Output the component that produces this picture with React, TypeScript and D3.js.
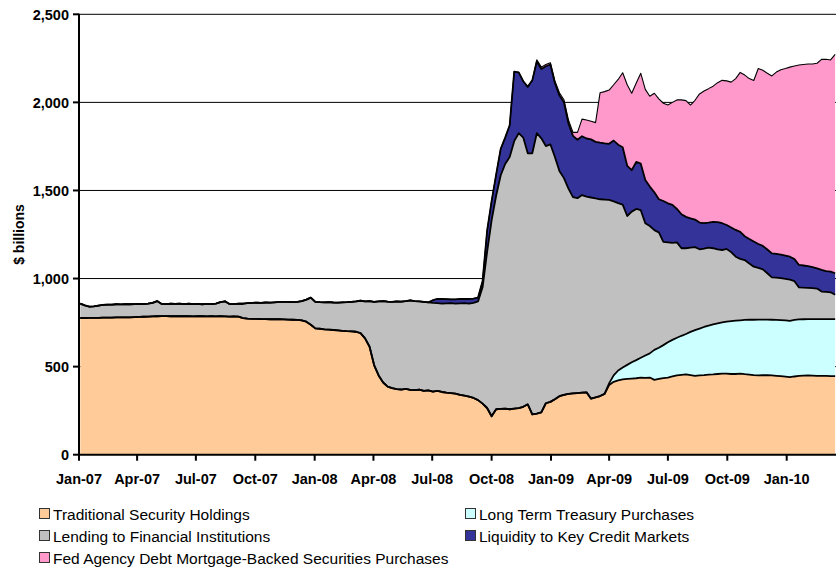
import React from 'react';
import * as d3 from 'd3';

// weekly H.4.1 readings, first Wednesday of 2007 onward, $ billions
const firstWeek = new Date(2007, 0, 3);

const traditional = [
  776, 776, 777, 777, 777, 778, 778, 778, 779, 779,
  780, 780, 781, 782, 783, 784, 785, 786, 787, 787,
  786, 786, 787, 786, 786, 785, 786, 786, 785, 786,
  785, 786, 785, 784, 785, 784, 775, 772, 771, 771,
  770, 770, 769, 770, 769, 768, 767, 766, 765, 763,
  755, 738, 717, 715, 712, 710, 708, 706, 703, 701,
  700, 698, 690, 660, 613, 509, 450, 410, 386, 378,
  372, 370, 374, 368, 366, 370, 362, 365, 358, 362,
  356, 352, 350, 347, 340, 335, 330, 322, 310, 290,
  265, 218, 258, 260, 262, 258, 262, 264, 272, 286,
  229, 233, 240, 292, 300, 315, 332, 340, 345, 348,
  350, 352, 354, 318, 325, 333, 345, 395, 414, 422,
  428, 430, 432, 434, 437, 436, 438, 425, 430, 435,
  438, 444, 450, 453, 456, 452, 448, 450, 452, 455,
  456, 458, 460, 460, 458, 458, 460, 457, 455, 452,
  450, 451, 452, 450, 448, 446, 443, 440, 444, 447,
  449, 450, 449, 448, 447, 447, 446, 446,
];

// starts week 117 (late Mar 2009)
const treasuryStart = 117;
const treasury = [
  10, 36, 56, 67, 80, 93, 103, 113, 127, 137,
  170, 177, 187, 200, 208, 214, 222, 229, 245, 259,
  266, 273, 278, 284, 288, 291, 295, 300, 303, 303,
  308, 311, 314, 317, 316, 315, 316, 317, 318, 319,
  320, 321, 321, 320, 320, 321, 322, 323, 323, 324, 324,
];

const lending = [
  82, 72, 63, 65, 69, 72, 74, 74, 75, 74,
  75, 74, 74, 74, 72, 74, 77, 86, 69, 68,
  71, 70, 71, 69, 71, 70, 70, 68, 71, 69,
  73, 80, 86, 72, 70, 74, 82, 88, 91, 92,
  92, 94, 94, 95, 98, 100, 101, 100, 103, 109,
  125, 154, 151, 151, 153, 156, 156, 157, 162, 165,
  168, 172, 184, 210, 259, 359, 420, 462, 483, 490,
  498, 499, 498, 508, 506, 500, 506, 500, 504, 498,
  502, 507, 510, 511, 519, 525, 528, 540, 560, 660,
  885, 1112, 1212, 1325, 1388, 1432, 1518, 1561, 1528, 1425,
  1482, 1592, 1556, 1460, 1462, 1375, 1278, 1230, 1165, 1114,
  1106, 1122, 1111, 1142, 1130, 1117, 1103, 1041, 988, 950,
  925, 845, 855, 858, 838, 751, 723, 680, 655, 586,
  567, 550, 541, 497, 487, 478, 471, 450, 445, 442,
  432, 419, 411, 413, 392, 363, 349, 340, 319, 301,
  293, 285, 263, 241, 240, 238, 236, 234, 220, 182,
  179, 177, 176, 173, 156, 154, 152, 138,
];

// starts week 78 (early Jul 2008)
const liquidityStart = 78;
const liquidity = [
  15, 24, 26, 24, 22, 24, 25, 24, 26, 24,
  22, 35, 120, 110, 120, 150, 150, 180, 395, 345,
  320, 377, 414, 407, 394, 453, 453, 420, 430, 430,
  370, 348, 332, 334, 330, 330, 321, 321, 319, 319,
  345, 332, 325, 285, 235, 267, 264, 246, 224, 215,
  188, 232, 222, 216, 190, 193, 178, 167, 157, 152,
  145, 143, 150, 155, 152, 136, 140, 152, 153, 135,
  140, 143, 136, 133, 135, 136, 135, 134, 132, 130,
  125, 127, 126, 124, 119, 115, 123, 118, 117, 122,
];

// starts week 101 (Dec 2008)
const mbsStart = 101;
const mbs = [
  10, 10, 10, 10, 12, 15, 15, 20, 20, 42,
  97, 105, 103, 109, 284, 294, 305, 317, 370, 423,
  460, 437, 448, 513, 514, 513, 562, 570, 555, 558,
  582, 619, 649, 660, 643, 677, 730, 750, 760, 770,
  792, 811, 818, 825, 859, 905, 915, 910, 914, 996,
  997, 1000, 1007, 1032, 1049, 1062, 1076, 1097, 1135, 1141,
  1147, 1153, 1164, 1195, 1203, 1202, 1242,
];

const yTicks = [0, 500, 1000, 1500, 2000, 2500];

const series = [
  { key: 'traditional', label: 'Traditional Security Holdings', color: '#FFCC99' },
  { key: 'treasury', label: 'Long Term Treasury Purchases', color: '#CCFFFF' },
  { key: 'lending', label: 'Lending to Financial Institutions', color: '#C0C0C0' },
  { key: 'liquidity', label: 'Liquidity to Key Credit Markets', color: '#333399' },
  { key: 'mbs', label: 'Fed Agency Debt Mortgage-Backed Securities Purchases', color: '#FF99CC' },
];

const legendPos = {
  traditional: [39, 514],
  treasury: [465, 514],
  lending: [39, 536],
  liquidity: [465, 536],
  mbs: [39, 558],
};

const font = '"Liberation Sans", Arial, sans-serif';

export default function App() {
  const width = 836;
  const height = 571;

  const pick = (arr: number[], start: number, i: number) => (i < start ? 0 : arr[i - start]);
  const rows = traditional.map((v, i) => ({
    date: d3.timeDay.offset(firstWeek, 7 * i),
    traditional: v,
    treasury: pick(treasury, treasuryStart, i),
    lending: lending[i],
    liquidity: pick(liquidity, liquidityStart, i),
    mbs: pick(mbs, mbsStart, i),
  }));

  const x = d3.scaleTime()
    .domain([new Date(2007, 0, 1), new Date(2010, 0, 1)])
    .range([79, 786.7]);
  const y = d3.scaleLinear().domain([0, 2500]).range([454.7, 14.3]);

  const stacked = d3.stack<any>().keys(series.map((s) => s.key))(rows);

  const area = d3.area<any>()
    .x((d) => x(d.data.date))
    .y0((d) => y(d[0]))
    .y1((d) => y(d[1]));
  const topLine = d3.line<any>()
    .x((d) => x(d.data.date))
    .y((d) => y(d[1]));

  const xTicks = d3.timeMonth.every(3)!.range(new Date(2007, 0, 1), new Date(2010, 0, 2));
  const fmt = d3.timeFormat('%b-%y');

  return (
    <svg width={width} height={height} style={{ position: 'absolute', left: 0, top: 0, background: '#fff' }}>
      {/* gridlines */}
      {yTicks.slice(1).map((t) => (
        <line key={t} x1={79} x2={width} y1={y(t)} y2={y(t)} stroke="#000" strokeWidth={1} />
      ))}

      {stacked.map((s, i) => (
        <path key={s.key} d={area(s) as string} fill={series[i].color} stroke="none" />
      ))}
      {stacked.map((s, i) => (
        <path key={'l' + s.key} d={topLine(s) as string} fill="none" stroke="#000"
          strokeWidth={s.key === 'mbs' ? 1.1 : 1.8} strokeLinejoin="round" />
      ))}

      {/* y axis */}
      <line x1={79} x2={79} y1={y(2500) - 0.5} y2={y(0) + 1} stroke="#000" strokeWidth={2} />
      {yTicks.map((t) => (
        <g key={t}>
          <line x1={73} x2={79} y1={y(t)} y2={y(t)} stroke="#000" strokeWidth={2} />
          <text x={69} y={y(t)} dy="0.36em" textAnchor="end" fontFamily={font}
            fontWeight="bold" fontSize={14.5}>{d3.format(',')(t)}</text>
        </g>
      ))}
      <text transform={`translate(19,${(y(0) + y(2500)) / 2}) rotate(-90)`} textAnchor="middle"
        dy="0.36em" fontFamily={font} fontWeight="bold" fontSize={14}>$ billions</text>

      {/* x axis */}
      <line x1={78} x2={width} y1={y(0)} y2={y(0)} stroke="#000" strokeWidth={2} />
      {xTicks.map((d) => (
        <g key={+d}>
          <line x1={x(d)} x2={x(d)} y1={y(0)} y2={y(0) + 6} stroke="#000" strokeWidth={2} />
          <text x={x(d)} y={484} textAnchor="middle" fontFamily={font} fontWeight="bold"
            fontSize={14.5}>{fmt(d)}</text>
        </g>
      ))}

      {/* legend */}
      {series.map((s) => {
        const [lx, ly] = (legendPos as any)[s.key];
        return (
          <g key={'lg' + s.key}>
            <rect x={lx + 0.5} y={ly - 5.5} width={10} height={10} fill={s.color} stroke="#333" strokeWidth={1} />
            <text x={lx + 14} y={ly} dy="0.36em" fontFamily={font} fontSize={15.5}>{s.label}</text>
          </g>
        );
      })}
    </svg>
  );
}
